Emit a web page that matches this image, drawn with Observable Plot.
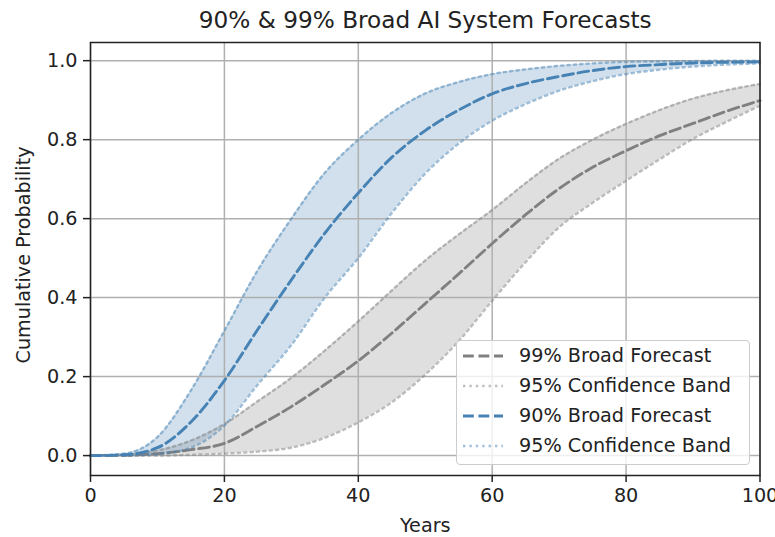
<!DOCTYPE html>
<html>
<head>
<meta charset="utf-8">
<script src="https://cdn.jsdelivr.net/npm/d3@7"></script>
<script src="https://cdn.jsdelivr.net/npm/@observablehq/plot@0.6"></script>
<style>
  html, body { margin: 0; padding: 0; background: #fff; }
  #wrap { position: relative; width: 775px; height: 537px; font-family: "DejaVu Sans", sans-serif; }
  #legend {
    position: absolute; left: 456px; top: 340px; width: 292px; height: 123px;
    border: 1px solid #cccccc; border-radius: 4px; background: rgba(255,255,255,0.8);
    box-sizing: content-box;
  }
  .row { position: absolute; left: 0; height: 30px; width: 100%; }
  .row svg { position: absolute; left: 6px; top: 0; }
  .row span { position: absolute; left: 62px; top: 0; line-height: 30px; font-size: 19.2px; color: #222; white-space: nowrap; }
</style>
</head>
<body>
<div id="wrap"><div id="chart"></div><div id="legend"></div></div>
<script>
const years      = [0, 5, 10, 15, 20, 25, 30, 35, 40, 45, 50, 55, 60, 65, 70, 75, 80, 85, 90, 95, 100];
const blueMean   = [0, 0.002, 0.02, 0.085, 0.19, 0.32, 0.445, 0.563, 0.665, 0.755, 0.823, 0.875, 0.916, 0.942, 0.96, 0.975, 0.985, 0.99, 0.994, 0.996, 0.997];
const blueUpper  = [0, 0.005, 0.047, 0.165, 0.316, 0.47, 0.60, 0.716, 0.80, 0.868, 0.917, 0.946, 0.966, 0.978, 0.987, 0.993, 0.997, 0.998, 0.999, 1.0, 1.0];
const blueLower  = [0, 0, 0.004, 0.02, 0.076, 0.18, 0.28, 0.40, 0.50, 0.614, 0.714, 0.79, 0.848, 0.89, 0.924, 0.948, 0.966, 0.977, 0.985, 0.99, 0.993];
const grayMean   = [0, 0.001, 0.005, 0.015, 0.031, 0.075, 0.124, 0.18, 0.24, 0.31, 0.385, 0.46, 0.537, 0.61, 0.676, 0.73, 0.772, 0.81, 0.841, 0.872, 0.899];
const grayUpper  = [0, 0.003, 0.013, 0.038, 0.08, 0.138, 0.197, 0.266, 0.34, 0.418, 0.494, 0.56, 0.622, 0.69, 0.752, 0.80, 0.84, 0.875, 0.904, 0.925, 0.941];
const grayLower  = [0, 0, 0, 0.002, 0.005, 0.01, 0.02, 0.045, 0.084, 0.135, 0.205, 0.29, 0.392, 0.49, 0.578, 0.64, 0.696, 0.75, 0.802, 0.845, 0.886];
const xTicks = [0, 20, 40, 60, 80, 100];
const yTicks = [0, 0.2, 0.4, 0.6, 0.8, 1.0];
const legendLabels = ["99% Broad Forecast", "95% Confidence Band", "90% Broad Forecast", "95% Confidence Band"];
const titleText = "90% & 99% Broad AI System Forecasts";
const xLabel = "Years";
const yLabel = "Cumulative Probability";

const data = years.map((year, i) => ({
  year,
  blueMean: blueMean[i], blueUpper: blueUpper[i], blueLower: blueLower[i],
  grayMean: grayMean[i], grayUpper: grayUpper[i], grayLower: grayLower[i]
}));

const BLUE = "steelblue", GRAY = "gray";
const curve = "monotone-x";
const dash = "10.8,4.7";
const dot = "2.4,4";

const chart = Plot.plot({
  width: 775,
  height: 537,
  marginLeft: 90,
  marginRight: 15.5,
  marginTop: 42,
  marginBottom: 62,
  style: { fontFamily: "DejaVu Sans", fontSize: "19.2px", color: "#222", background: "white" },
  x: { domain: [0, 100] },
  y: { domain: [-0.0504, 1.046] },
  marks: [
    Plot.areaY(data, { x: "year", y1: "grayLower", y2: "grayUpper", fill: GRAY, fillOpacity: 0.25, curve }),
    Plot.areaY(data, { x: "year", y1: "blueLower", y2: "blueUpper", fill: BLUE, fillOpacity: 0.25, curve }),
    Plot.gridX(xTicks, { stroke: "#b0b0b0", strokeOpacity: 1, strokeWidth: 1.5 }),
    Plot.gridY(yTicks, { stroke: "#b0b0b0", strokeOpacity: 1, strokeWidth: 1.5 }),
    Plot.line(data, { x: "year", y: "grayUpper", stroke: GRAY, strokeOpacity: 0.5, strokeWidth: 2.4, strokeDasharray: dot, curve }),
    Plot.line(data, { x: "year", y: "grayLower", stroke: GRAY, strokeOpacity: 0.5, strokeWidth: 2.4, strokeDasharray: dot, curve }),
    Plot.line(data, { x: "year", y: "grayMean", stroke: GRAY, strokeWidth: 2.9, strokeDasharray: dash, curve }),
    Plot.line(data, { x: "year", y: "blueUpper", stroke: BLUE, strokeOpacity: 0.5, strokeWidth: 2.4, strokeDasharray: dot, curve }),
    Plot.line(data, { x: "year", y: "blueLower", stroke: BLUE, strokeOpacity: 0.5, strokeWidth: 2.4, strokeDasharray: dot, curve }),
    Plot.line(data, { x: "year", y: "blueMean", stroke: BLUE, strokeWidth: 2.9, strokeDasharray: dash, curve }),
    Plot.frame({ stroke: "#222", strokeWidth: 1.5 }),
    Plot.axisX(xTicks, { tickSize: 7, tickPadding: 6, strokeWidth: 1.5, stroke: "#222", fill: "#222", label: null, tickFormat: d3.format("d") }),
    Plot.axisY(yTicks, { tickSize: 7, tickPadding: 6, strokeWidth: 1.5, stroke: "#222", fill: "#222", label: null, tickFormat: d3.format(".1f") }),
    Plot.text([titleText], { frameAnchor: "top", dy: -22, lineAnchor: "middle", textAnchor: "middle", fontSize: 23.2, fill: "#222" }),
    Plot.text([xLabel], { frameAnchor: "bottom", dy: 50, lineAnchor: "middle", textAnchor: "middle", fill: "#222" }),
    Plot.text([yLabel], { frameAnchor: "left", dx: -67, dy: -4, rotate: -90, lineAnchor: "middle", textAnchor: "middle", fill: "#222" })
  ]
});
document.getElementById("chart").appendChild(chart);

// legend
const legendSpecs = [
  { color: GRAY, opacity: 1, dasharray: dash, width: 2.9 },
  { color: GRAY, opacity: 0.5, dasharray: dot, width: 2.4 },
  { color: BLUE, opacity: 1, dasharray: dash, width: 2.9 },
  { color: BLUE, opacity: 0.5, dasharray: dot, width: 2.4 }
];
const legend = document.getElementById("legend");
legendLabels.forEach((lab, i) => {
  const s = legendSpecs[i];
  const row = document.createElement("div");
  row.className = "row";
  row.style.top = (i * 30) + "px";
  row.innerHTML = `<svg width="42" height="30"><line x1="0" x2="40" y1="15" y2="15" stroke="${s.color}" stroke-opacity="${s.opacity}" stroke-width="${s.width}" stroke-dasharray="${s.dasharray}"/></svg><span></span>`;
  row.querySelector("span").textContent = lab;
  legend.appendChild(row);
});
</script>
</body>
</html>
